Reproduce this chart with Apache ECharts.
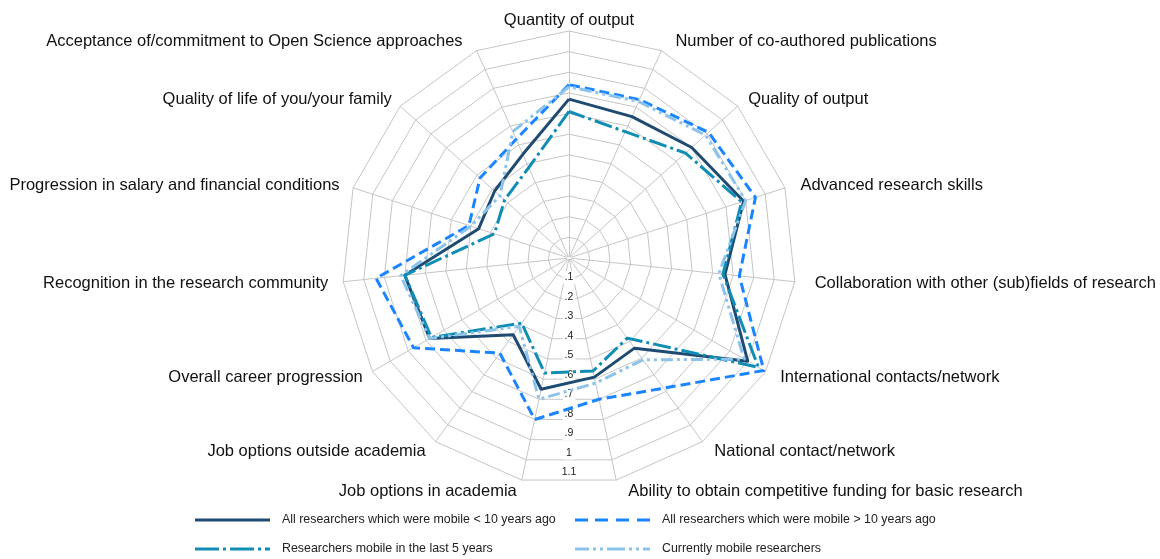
<!DOCTYPE html>
<html>
<head>
<meta charset="utf-8">
<script src="https://cdn.jsdelivr.net/npm/echarts@6/dist/echarts.min.js"></script>
<style>
    html, body { margin: 0; padding: 0; background: #fff; }
    #main { width: 1160px; height: 559px; }
</style>
</head>
<body>
<div id="main"></div>
<script>
    // axes, clockwise from the top
    var indicatorNames = [
        'Quantity of output',
        'Number of co-authored publications',
        'Quality of output',
        'Advanced research skills',
        'Collaboration with other (sub)fields of research',
        'International contacts/network',
        'National contact/network',
        'Ability to obtain competitive funding for basic research',
        'Job options in academia',
        'Job options outside academia',
        'Overall career progression',
        'Recognition in the research community',
        'Progression in salary and financial conditions',
        'Quality of life of you/your family',
        'Acceptance of/commitment to Open Science approaches'
    ];
    var tickLabels = ['.1', '.2', '.3', '.4', '.5', '.6', '.7', '.8', '.9', '1', '1.1'];

    var seriesNames = [
        'All researchers which were mobile < 10 years ago',
        'All researchers which were mobile > 10 years ago',
        'Researchers mobile in the last 5 years',
        'Currently mobile researchers'
    ];
    var mobileUnder10 = [0.77, 0.75, 0.80, 0.89, 0.76, 1.00, 0.54, 0.59, 0.65, 0.46, 0.78, 0.80, 0.46, 0.485, 0.55];
    var mobileOver10 = [0.84, 0.84, 0.91, 0.95, 0.83, 1.09, 0.78, 0.70, 0.80, 0.57, 0.87, 0.94, 0.51, 0.58, 0.63];
    var mobileLast5 = [0.71, 0.67, 0.76, 0.88, 0.75, 1.06, 0.48, 0.56, 0.57, 0.39, 0.77, 0.80, 0.38, 0.42, 0.48];
    var mobileNow = [0.83, 0.83, 0.89, 0.90, 0.73, 0.98, 0.61, 0.62, 0.70, 0.41, 0.78, 0.82, 0.50, 0.45, 0.67];

    var FONT = '"Liberation Sans", Arial, sans-serif';
    var GRID = '#c6c6c6';
    var colors = ['#1f4a72', '#1a85ff', '#108db5', '#8cc3ea'];
    var dashes = ['solid', [10, 5], [18, 4, 3, 4], [12, 4, 3, 4, 3, 4]];
    // legend line samples (75 x 3)
    var icons = [
        'path://M0,0H75V3H0Z',
        'path://M0,0H13V3H0Z M20,0H33V3H20Z M41,0H54V3H41Z M62,0H75V3H62Z',
        'path://M0,0H24V3H0Z M28,0H31V3H28Z M35,0H59V3H35Z M63,0H66V3H63Z M70,0H75V3H70Z',
        'path://M0,0H14V3H0Z M18,0H21V3H18Z M25,0H28V3H25Z M32,0H50V3H32Z M54,0H57V3H54Z M61,0H64V3H61Z M68,0H75V3H68Z'
    ];
    var values = [mobileUnder10, mobileOver10, mobileLast5, mobileNow];

    // echarts lays radar axes out counter-clockwise, so feed them in reverse after the first
    var order = [0];
    for (var k = indicatorNames.length - 1; k > 0; k--) order.push(k);
    function reorder(arr) {
        return order.map(function (i) { return arr[i]; });
    }

    // small per-label nudges of the axis names [top, right, bottom, left]
    var namePad = [
        [0, 0, 0, 0], [0, 0, 0, 10], [0, 0, 0, 3], [2, 0, 0, 6], [2, 0, 0, 10],
        [2, 0, 0, 6], [4, 0, 0, 6], [4, 0, 0, 10], [4, 3, 0, 0], [4, 4, 0, 0],
        [2, 1, 0, 0], [2, 5, 0, 0], [2, 4, 0, 0], [0, 1, 0, 0], [0, 10, 0, 0]
    ];
    var nameRich = {};
    namePad.forEach(function (p, i) {
        nameRich['n' + i] = {
            fontFamily: FONT, fontSize: 16.5, color: '#111', padding: p
        };
    });
    nameRich.n0.lineHeight = 2;

    function legendItem(i) {
        return { name: seriesNames[i], icon: icons[i] };
    }
    function legendBlock(left, items) {
        return {
            orient: 'vertical',
            left: left,
            top: 513,
            padding: 0,
            itemWidth: 75,
            itemHeight: 3,
            itemGap: 15,
            selectedMode: false,
            textStyle: {
                fontFamily: FONT,
                fontSize: 12.4,
                lineHeight: 14,
                color: '#222',
                padding: [0, 0, 0, 7]
            },
            data: items
        };
    }

    var chart = echarts.init(document.getElementById('main'), null, { renderer: 'canvas' });

    chart.setOption({
        backgroundColor: '#fff',
        animation: false,
        legend: [
            legendBlock(195, [legendItem(0), legendItem(2)]),
            legendBlock(575, [legendItem(1), legendItem(3)])
        ],
        radar: {
            center: [569, 258],
            radius: 227,
            startAngle: 90,
            splitNumber: 11,
            shape: 'polygon',
            nameGap: 10,
            axisName: {
                color: '#111',
                fontFamily: FONT,
                fontSize: 16.5,
                formatter: function (name) {
                    return '{n' + indicatorNames.indexOf(name) + '|' + name + '}';
                },
                rich: nameRich
            },
            axisLine: { lineStyle: { color: GRID, width: 1 } },
            splitLine: { lineStyle: { color: GRID, width: 1 } },
            splitArea: { show: false },
            indicator: reorder(indicatorNames).map(function (n) {
                return { name: n, min: 0, max: 1.1 };
            })
        },
        // value labels running down from the centre
        polar: { center: [569, 258], radius: 214.5 },
        angleAxis: { show: false, startAngle: 270, min: 0, max: 360 },
        radiusAxis: {
            min: 0,
            max: 1.1,
            interval: 0.1,
            z: 1,
            axisLine: { show: false },
            axisTick: { show: false },
            splitLine: { show: false },
            axisLabel: {
                margin: 0,
                rotate: 0,
                align: 'center',
                verticalAlign: 'middle',
                fontFamily: FONT,
                fontSize: 10.5,
                color: '#222',
                backgroundColor: '#fff',
                padding: [1, 2],
                formatter: function (v) {
                    var k = Math.round(v * 10);
                    return k > 0 ? tickLabels[k - 1] : '';
                }
            }
        },
        series: [{
            type: 'radar',
            z: 3,
            symbol: 'none',
            data: values.map(function (v, i) {
                return {
                    name: seriesNames[i],
                    value: reorder(v),
                    itemStyle: { color: colors[i] },
                    lineStyle: { color: colors[i], width: 3, type: dashes[i] }
                };
            })
        }]
    });
</script>
</body>
</html>
